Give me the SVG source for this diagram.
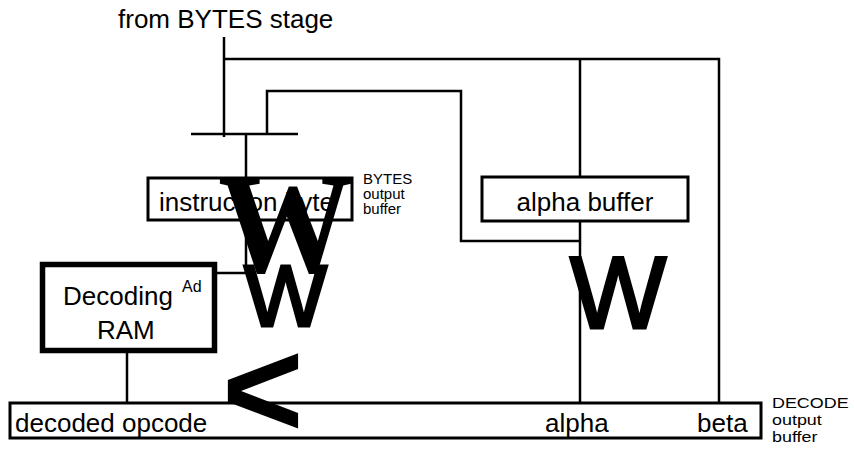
<svg xmlns="http://www.w3.org/2000/svg" width="854" height="455" viewBox="0 0 854 455">
<style>
.t{font-family:"Liberation Sans",Arial,sans-serif;fill:#000}
.big{font-size:26px}
.sm{font-size:15px}
.box{fill:#fff;stroke:#000;stroke-width:3}
.ln{fill:none;stroke:#000;stroke-width:2.5;stroke-linecap:butt}
.g{font-family:"Liberation Sans",Arial,sans-serif;fill:#000;stroke:#000;stroke-width:3}
</style>
<rect width="854" height="455" fill="#fff"/>
<g id="connectors" class="ln">
<path d="M224,37 V137"/>
<path d="M224,59 H719 V403"/>
<path d="M580,59 V177"/>
<path d="M267,134 V91 H461 V241 H580"/>
<path d="M580,221 V403"/>
<path d="M191,134 H298"/>
<path d="M246,134 V178"/>
<path d="M246,220 V273 H217"/>
<path d="M127,353 V403"/>
</g>
<g id="input-label">
<text class="t big" x="118" y="28">from BYTES stage</text>
</g>
<g id="instruction-byte">
<rect class="box" x="148" y="178" width="204" height="42"/>
<text class="t big" x="159" y="211">instruction byte</text>
</g>
<g id="bytes-label">
<text class="t sm" x="363" y="184">BYTES</text>
<text class="t sm" x="363" y="199">output</text>
<text class="t sm" x="363" y="214">buffer</text>
</g>
<g id="alpha-buffer">
<rect class="box" x="482" y="177" width="206" height="44"/>
<text class="t big" x="585" y="211" text-anchor="middle">alpha buffer</text>
</g>
<g id="decoding-ram">
<rect x="42.5" y="264.5" width="172" height="86" fill="#fff" stroke="#000" stroke-width="5.5"/>
<text class="t big" x="63" y="305">Decoding</text>
<text class="t big" x="97" y="339">RAM</text>
<text class="t" font-size="16" x="182" y="292">Ad</text>
</g>
<g id="decode-buffer">
<rect class="box" x="10" y="403" width="751" height="35"/>
<text class="t big" x="15" y="432">decoded opcode</text>
<text class="t big" x="545" y="432">alpha</text>
<text class="t big" x="697" y="432">beta</text>
</g>
<g id="decode-label" transform="translate(772,0) scale(1.28,1)">
<text class="t" font-size="14" x="0" y="408">DECODE</text>
<text class="t" font-size="14" x="0" y="425">output</text>
<text class="t" font-size="14" x="0" y="442">buffer</text>
</g>
<g id="glyphs">
<text font-family="'Liberation Serif','Times New Roman',serif" font-weight="bold" font-size="142" x="218" y="272" textLength="135" lengthAdjust="spacingAndGlyphs">W</text>
<text class="g" font-size="88" x="244" y="326">W</text>
<text class="g" font-size="102" x="570" y="328">W</text>
<text class="t" font-weight="bold" font-size="140" x="222" y="437">&lt;</text>
</g>
</svg>
